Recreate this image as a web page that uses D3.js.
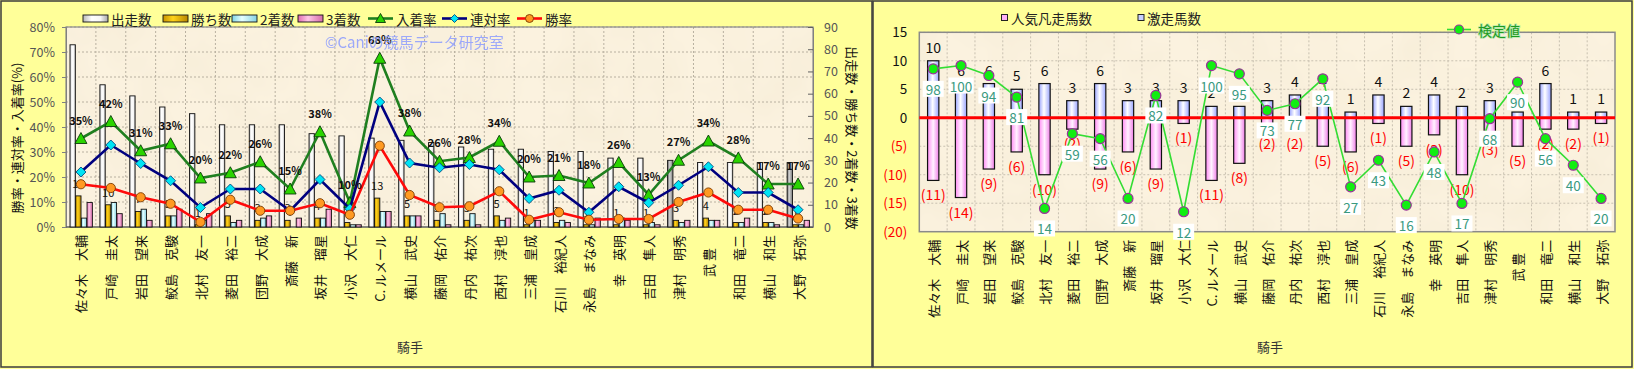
<!DOCTYPE html>
<html><head><meta charset="utf-8">
<script src="https://cdn.jsdelivr.net/npm/d3@7"></script>
<style>
body{margin:0;background:#ffff99}
svg{display:block}
text{font-family:"Noto Sans CJK JP","Noto Sans",sans-serif}
</style>
</head><body><svg id="c" width="1634" height="369"></svg>
<script>
// ---------- data ----------
const jockeys = ["佐々木　大輔","戸崎　圭太","岩田　望来","鮫島　克駿","北村　友一","菱田　裕二","団野　大成","斎藤　新","坂井　瑠星","小沢　大仁","C. ルメール","横山　武史","藤岡　佑介","丹内　祐次","西村　淳也","三浦　皇成","石川　裕紀人","永島　まなみ","幸　英明","吉田　隼人","津村　明秀","武 豊　","和田　竜二","横山　和生","大野　拓弥"];
const rides   = [82,64,59,54,51,46,46,46,42,41,40,39,38,36,35,35,34,34,31,31,30,29,29,29,29];
const wins    = [14,10,7,5,1,5,3,3,4,2,13,5,3,3,5,1,2,1,1,1,3,4,2,2,1];
const seconds = [4,11,8,5,3,2,4,0,4,1,7,5,6,6,3,3,3,1,4,2,2,3,2,2,1];
const thirds  = [11,6,3,8,6,3,5,4,8,1,7,5,1,1,4,3,2,4,3,1,3,3,4,1,3];
const winRate   = [17.1,15.6,11.9,9.3,2.0,10.9,6.5,6.5,9.5,4.9,32.5,12.8,7.9,8.3,14.3,2.9,5.9,2.9,3.2,3.2,10.0,13.8,6.9,6.9,3.4];
const rentaiRate= [22.0,32.8,25.4,18.5,7.8,15.2,15.2,6.5,19.0,7.3,50.0,25.6,23.7,25.0,22.9,11.4,14.7,5.9,16.1,9.7,16.7,24.1,13.8,13.8,6.9];
const showRate  = [35.4,42.2,30.5,33.3,19.6,21.7,26.1,15.2,38.1,9.8,67.5,38.4,26.3,27.8,34.3,20.0,20.6,17.6,25.8,12.9,26.7,34.4,27.6,17.2,17.2];
const grayRideBars = [20,24]; // 出走数 bars drawn in grey
const pctTicks = [0,10,20,30,40,50,60,70,80];
const cntTicks = [0,10,20,30,40,50,60,70,80,90];

const gekisou = [10,6,6,5,6,3,6,3,3,3,2,2,3,4,4,1,4,2,4,2,3,1,6,1,1];
const bonsou  = [11,14,9,6,10,2,9,6,9,1,11,8,2,2,5,6,1,5,3,10,3,5,2,2,1];
const kentei  = [98,100,94,81,14,59,56,20,82,12,100,95,73,77,92,27,43,16,48,17,68,90,56,40,20];
const rTicks = [-20,-15,-10,-5,0,5,10,15];

// ---------- setup ----------
const svg = d3.select("#c");
const defs = svg.append("defs");
function hgrad(id, stops){
  const g = defs.append("linearGradient").attr("id",id).attr("x1",0).attr("x2",1).attr("y1",0).attr("y2",0);
  stops.forEach(([o,c])=>g.append("stop").attr("offset",o).attr("stop-color",c));
}
hgrad("gWhite",[[0,"#b8b8b8"],[0.35,"#ffffff"],[0.7,"#f6f6f6"],[1,"#a8a8a8"]]);
hgrad("gGray",[[0,"#6c6c6c"],[0.4,"#d4d4d4"],[1,"#7a7a7a"]]);
hgrad("gGold",[[0,"#c89400"],[0.4,"#ffd21a"],[1,"#b88600"]]);
hgrad("gCyan",[[0,"#7fd6e6"],[0.4,"#e6ffff"],[1,"#86d2e2"]]);
hgrad("gPink",[[0,"#e06cb0"],[0.4,"#ffc6e6"],[1,"#d46aa8"]]);
hgrad("gBlue",[[0,"#9aa4ff"],[0.45,"#ffffff"],[1,"#9aa4ff"]]);
hgrad("gPinkR",[[0,"#ff8cf4"],[0.5,"#fff2ff"],[1,"#f07ee8"]]);

const f = defs.append("filter").attr("id","parch").attr("x",0).attr("y",0).attr("width",1).attr("height",1);
f.append("feTurbulence").attr("type","fractalNoise").attr("baseFrequency","0.018").attr("numOctaves",3).attr("seed",7);
f.append("feColorMatrix").attr("type","matrix").attr("values","0 0 0 0 0.86  0 0 0 0 0.78  0 0 0 0 0.6  0.55 0 0 0 -0.18");

// panels
svg.append("rect").attr("x",1).attr("y",1).attr("width",871).attr("height",366)
  .attr("fill","#ffff99").attr("stroke","#3c3c3c").attr("stroke-width",1.5);
svg.append("rect").attr("x",873).attr("y",1).attr("width",759).attr("height",366)
  .attr("fill","#ffff99").attr("stroke","#3c3c3c").attr("stroke-width",1.5);

function plotBg(x0,y0,w,h){
  svg.append("rect").attr("x",x0).attr("y",y0).attr("width",w).attr("height",h).attr("fill","#fbf2df");
  svg.append("rect").attr("x",x0).attr("y",y0).attr("width",w).attr("height",h).attr("fill","#fff").attr("filter","url(#parch)");
}

// ================= LEFT CHART =================
const L = {x0:66, x1:813, y0:27, y1:227};
const xL = d3.scaleBand().domain(d3.range(jockeys.length)).range([L.x0,L.x1]);
const sub = d3.scaleBand().domain(["r","w","s","t"]).range([4, xL.bandwidth()-3.5]).paddingInner(0.06);
const yPct = d3.scaleLinear().domain([0,80]).range([L.y1,L.y0]);
const yCnt = d3.scaleLinear().domain([0,90]).range([L.y1,L.y0]);

plotBg(L.x0,L.y0,L.x1-L.x0,L.y1-L.y0);
const gl = svg.append("g");
gl.selectAll(".hg").data(pctTicks.slice(1)).join("line")
  .attr("x1",L.x0).attr("x2",L.x1).attr("y1",d=>yPct(d)).attr("y2",d=>yPct(d))
  .attr("stroke","#b8b0a0").attr("stroke-dasharray","2,2");
gl.selectAll(".vg").data(d3.range(1,jockeys.length)).join("line")
  .attr("x1",i=>xL(i)).attr("x2",i=>xL(i)).attr("y1",L.y0).attr("y2",L.y1)
  .attr("stroke","#b8b0a0").attr("stroke-dasharray","2,2");
svg.append("rect").attr("x",L.x0).attr("y",L.y0).attr("width",L.x1-L.x0).attr("height",L.y1-L.y0)
  .attr("fill","none").attr("stroke","#8a8a8a").attr("stroke-width",1.2);

// axes
const axL = svg.append("g").attr("transform",`translate(${L.x0},0)`)
  .call(d3.axisLeft(yPct).tickValues(pctTicks).tickFormat(d=>d+"%").tickSize(4).tickPadding(7));
axL.select(".domain").attr("stroke","#808080");
axL.selectAll(".tick line").attr("stroke","#808080");
axL.selectAll("text").attr("font-size",12.5).attr("fill","#555").attr("font-family","Liberation Sans, Arial, sans-serif");
const axR = svg.append("g").attr("transform",`translate(${L.x1},0)`)
  .call(d3.axisRight(yCnt).tickValues(cntTicks).tickSizeInner(-5).tickSizeOuter(0).tickPadding(11));
axR.select(".domain").attr("stroke","#808080");
axR.selectAll(".tick line").attr("stroke","#606060");
axR.selectAll("text").attr("font-size",12.5).attr("fill","#555").attr("font-family","Liberation Sans, Arial, sans-serif");
svg.append("line").attr("x1",L.x0).attr("x2",L.x1).attr("y1",L.y1).attr("y2",L.y1).attr("stroke","#555").attr("stroke-width",1.2);

// bars
const series = [
  {k:"r", vals:rides, fill:(i)=>grayRideBars.includes(i)?"url(#gGray)":"url(#gWhite)"},
  {k:"w", vals:wins, fill:()=>"url(#gGold)"},
  {k:"s", vals:seconds, fill:()=>"url(#gCyan)"},
  {k:"t", vals:thirds, fill:()=>"url(#gPink)"}
];
const gb = svg.append("g");
series.forEach(s=>{
  gb.selectAll(null).data(s.vals).join("rect")
    .attr("x",(d,i)=>xL(i)+sub(s.k)).attr("width",sub.bandwidth())
    .attr("y",d=>yCnt(d)).attr("height",d=>L.y1-yCnt(d))
    .attr("fill",(d,i)=>s.fill(i)).attr("stroke","#111").attr("stroke-width",0.9);
});
// win count labels
svg.append("g").selectAll("text").data(wins).join("text")
  .attr("x",(d,i)=>xL(i)+sub("w")+sub.bandwidth()/2).attr("y",d=>yCnt(d)-8)
  .attr("text-anchor","middle").attr("font-size",11).attr("fill","#111").text(d=>d);

// lines
const cx = i=>xL(i)+xL.bandwidth()/2;
function drawLine(vals,color){
  svg.append("path").datum(vals).attr("fill","none").attr("stroke",color).attr("stroke-width",2.6)
    .attr("d",d3.line().x((d,i)=>cx(i)).y(d=>yPct(d)));
}
drawLine(showRate,"#1f7f1f");
svg.append("g").selectAll("path").data(showRate).join("path")
  .attr("d",(d,i)=>{const x=cx(i),y=yPct(d);return `M${x},${y-6}L${x+6},${y+5}L${x-6},${y+5}Z`;})
  .attr("fill","#2bd400").attr("stroke","#0a3a0a").attr("stroke-width",0.9);
drawLine(rentaiRate,"#00007f");
svg.append("g").selectAll("path").data(rentaiRate).join("path")
  .attr("d",(d,i)=>{const x=cx(i),y=yPct(d);return `M${x},${y-5}L${x+5},${y}L${x},${y+5}L${x-5},${y}Z`;})
  .attr("fill","#00e4f4").attr("stroke","#004a80").attr("stroke-width",0.9);
drawLine(winRate,"#ff0a0a");
svg.append("g").selectAll("circle").data(winRate).join("circle")
  .attr("cx",(d,i)=>cx(i)).attr("cy",d=>yPct(d)).attr("r",4.6)
  .attr("fill","#ff9a22").attr("stroke","#7a3a00").attr("stroke-width",0.9);
// show rate labels
svg.append("g").selectAll("text").data(showRate).join("text")
  .attr("x",(d,i)=>cx(i)).attr("y",d=>yPct(d)-14).attr("text-anchor","middle")
  .attr("font-size",11).attr("font-weight","bold").attr("fill","#111")
  .text(d=>Math.round(d)+"%");

// watermark
svg.append("text").attr("x",325).attr("y",48).attr("font-size",15).attr("fill","#8c9cff").attr("opacity",0.85)
  .text("©Caniの競馬データ研究室");

// legend
const legL = svg.append("g");
const legItems = [
  {t:"出走数",x:83,type:"rect",fill:"url(#gWhite)"},
  {t:"勝ち数",x:163,type:"rect",fill:"url(#gGold)"},
  {t:"2着数",x:232,type:"rect",fill:"url(#gCyan)"},
  {t:"3着数",x:298,type:"rect",fill:"url(#gPink)"},
  {t:"入着率",x:368,type:"tri",color:"#1f7f1f"},
  {t:"連対率",x:442,type:"dia",color:"#00007f"},
  {t:"勝率",x:517,type:"cir",color:"#ff0a0a"}
];
legItems.forEach(it=>{
  const y=18.5;
  if(it.type==="rect"){
    legL.append("rect").attr("x",it.x).attr("y",y-3.5).attr("width",25).attr("height",7)
      .attr("fill",it.fill).attr("stroke","#111").attr("stroke-width",0.9);
  } else {
    legL.append("line").attr("x1",it.x).attr("x2",it.x+25).attr("y1",y).attr("y2",y).attr("stroke",it.color).attr("stroke-width",2.6);
    const m=it.x+12.5;
    if(it.type==="tri") legL.append("path").attr("d",`M${m},${y-5}L${m+5},${y+4}L${m-5},${y+4}Z`).attr("fill","#2bd400").attr("stroke","#0a3a0a").attr("stroke-width",0.9);
    if(it.type==="dia") legL.append("path").attr("d",`M${m},${y-4}L${m+4},${y}L${m},${y+4}L${m-4},${y}Z`).attr("fill","#00e4f4").attr("stroke","#004a80").attr("stroke-width",0.9);
    if(it.type==="cir") legL.append("circle").attr("cx",m).attr("cy",y).attr("r",4).attr("fill","#ff9a22").attr("stroke","#7a3a00").attr("stroke-width",0.9);
  }
  legL.append("text").attr("x",it.x+28).attr("y",y).attr("dominant-baseline","central")
    .attr("font-size",13.5).attr("fill","#222").text(it.t);
});
// x labels
svg.append("g").selectAll("text").data(jockeys).join("text")
  .attr("transform",(d,i)=>`translate(${cx(i)},${L.y1+8}) rotate(-90)`)
  .attr("text-anchor","end").attr("dominant-baseline","central")
  .attr("font-size",13).attr("fill","#111").text(d=>d);
// axis titles
svg.append("text").attr("transform","translate(16,138) rotate(-90)").attr("text-anchor","middle")
  .attr("dominant-baseline","central").attr("font-size",13).attr("fill","#111").text("勝率・連対率・入着率(%)");
svg.append("text").attr("transform","translate(852,138) rotate(90)").attr("text-anchor","middle")
  .attr("dominant-baseline","central").attr("font-size",13).attr("fill","#111").text("出走数・勝ち数・2着数・3着数");
svg.append("text").attr("x",410).attr("y",346).attr("text-anchor","middle").attr("dominant-baseline","central")
  .attr("font-size",13).attr("fill","#333").text("騎手");

// ================= RIGHT CHART =================
const R = {x0:919.3, x1:1615, y0:32.3, y1:231.7};
const xR = d3.scaleBand().domain(d3.range(jockeys.length)).range([R.x0,R.x1]);
const yR = d3.scaleLinear().domain([-20,15]).range([R.y1,R.y0]);
const yK = d3.scaleLinear().domain([0,120]).range([R.y1,R.y0]);
const cxR = i=>xR(i)+xR.bandwidth()/2;
const bwR = 11.3;

plotBg(R.x0,R.y0,R.x1-R.x0,R.y1-R.y0);
const gr = svg.append("g");
gr.selectAll(".hg").data(rTicks.slice(1)).join("line")
  .attr("x1",R.x0).attr("x2",R.x1).attr("y1",d=>yR(d)).attr("y2",d=>yR(d))
  .attr("stroke","#c8c0b0").attr("stroke-dasharray","2,2");
gr.selectAll(".vg").data(d3.range(1,jockeys.length)).join("line")
  .attr("x1",i=>xR(i)).attr("x2",i=>xR(i)).attr("y1",R.y0).attr("y2",R.y1)
  .attr("stroke","#c8c0b0").attr("stroke-dasharray","2,2");
svg.append("rect").attr("x",R.x0).attr("y",R.y0).attr("width",R.x1-R.x0).attr("height",R.y1-R.y0)
  .attr("fill","none").attr("stroke","#8a8a8a").attr("stroke-width",1.5);

const ayR = svg.append("g").attr("transform",`translate(${R.x0},0)`)
  .call(d3.axisLeft(yR).tickValues(rTicks).tickFormat(d=>d<0?`(${-d})`:d).tickSize(0).tickPadding(12));
ayR.select(".domain").remove();
ayR.selectAll("text").attr("font-size",13.5).attr("fill",d=>d<0?"#ff0000":"#111");

// bars
svg.append("g").selectAll("rect").data(gekisou).join("rect")
  .attr("x",(d,i)=>cxR(i)-bwR/2).attr("width",bwR).attr("y",d=>yR(d)).attr("height",d=>yR(0)-yR(d))
  .attr("fill","url(#gBlue)").attr("stroke","#111").attr("stroke-width",1.2);
svg.append("g").selectAll("rect").data(bonsou).join("rect")
  .attr("x",(d,i)=>cxR(i)-bwR/2).attr("width",bwR).attr("y",yR(0)).attr("height",d=>yR(-d)-yR(0))
  .attr("fill","url(#gPinkR)").attr("stroke","#111").attr("stroke-width",1.2);
// bar labels
svg.append("g").selectAll("text").data(gekisou).join("text")
  .attr("x",(d,i)=>cxR(i)).attr("y",d=>yR(d)-14).attr("text-anchor","middle").attr("dominant-baseline","central")
  .attr("font-size",14).attr("fill","#111").text(d=>d);
svg.append("g").selectAll("text").data(bonsou).join("text")
  .attr("x",(d,i)=>cxR(i)).attr("y",d=>yR(-d)+14).attr("text-anchor","middle").attr("dominant-baseline","central")
  .attr("font-size",14).attr("fill","#ff0000").text(d=>`(${d})`);
// zero line
svg.append("line").attr("x1",R.x0).attr("x2",R.x1).attr("y1",yR(0)).attr("y2",yR(0))
  .attr("stroke","#ff0000").attr("stroke-width",3);
// kentei line
svg.append("path").datum(kentei).attr("fill","none").attr("stroke","#33dd33").attr("stroke-width",1.6)
  .attr("d",d3.line().x((d,i)=>cxR(i)).y(d=>yK(d)));
svg.append("g").selectAll("circle").data(kentei).join("circle")
  .attr("cx",(d,i)=>cxR(i)).attr("cy",d=>yK(d)).attr("r",5)
  .attr("fill","#11ee11").attr("stroke","#993399").attr("stroke-width",1.2);
const kl = svg.append("g").selectAll("g").data(kentei).join("g")
  .attr("transform",(d,i)=>`translate(${cxR(i)},${yK(d)+20})`);
kl.append("rect").attr("x",d=>d>=100?-12.5:-10.5).attr("width",d=>d>=100?25:21).attr("y",-8).attr("height",16).attr("fill","#fff");
kl.append("text").attr("text-anchor","middle").attr("dominant-baseline","central")
  .attr("font-size",13.5).attr("fill","#3a9a80").text(d=>d);

// legend
svg.append("rect").attr("x",1001.5).attr("y",14.5).attr("width",6).attr("height",6).attr("fill","#ffb0f8").attr("stroke","#222");
svg.append("text").attr("x",1011).attr("y",17.5).attr("dominant-baseline","central").attr("font-size",13.5).attr("fill","#222").text("人気凡走馬数");
svg.append("rect").attr("x",1138).attr("y",14.5).attr("width",6).attr("height",6).attr("fill","#c8d0ff").attr("stroke","#222");
svg.append("text").attr("x",1147).attr("y",17.5).attr("dominant-baseline","central").attr("font-size",13.5).attr("fill","#222").text("激走馬数");
svg.append("line").attr("x1",1447).attr("x2",1471).attr("y1",29.5).attr("y2",29.5).attr("stroke","#33dd33").attr("stroke-width",1.6);
svg.append("circle").attr("cx",1459).attr("cy",29.5).attr("r",4.5).attr("fill","#11ee11").attr("stroke","#993399").attr("stroke-width",1.2);
svg.append("text").attr("x",1478).attr("y",29.5).attr("dominant-baseline","central").attr("font-size",14)
  .attr("fill","#1f9a1f").attr("style","paint-order:stroke").attr("stroke","#b8e8b0").attr("stroke-width",1.5).text("検定値");

// x labels
svg.append("g").selectAll("text").data(jockeys).join("text")
  .attr("transform",(d,i)=>`translate(${cxR(i)},${R.y1+8}) rotate(-90)`)
  .attr("text-anchor","end").attr("dominant-baseline","central")
  .attr("font-size",13).attr("fill","#111").text(d=>d);
svg.append("text").attr("x",1270).attr("y",346).attr("text-anchor","middle").attr("dominant-baseline","central")
  .attr("font-size",13).attr("fill","#333").text("騎手");
</script></body></html>
